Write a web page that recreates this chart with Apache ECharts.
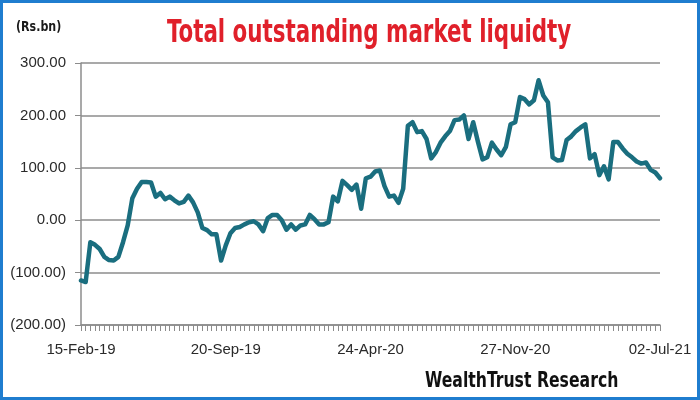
<!DOCTYPE html>
<html>
<head>
<meta charset="utf-8">
<script src="https://cdn.jsdelivr.net/npm/echarts@6/dist/echarts.min.js"></script>
<style>
html,body{margin:0;padding:0;background:#fff;}
#chart{width:700px;height:400px;}
</style>
</head>
<body>
<div id="chart"></div>
<script>
// Weekly observations starting 15-Feb-19 (Rs.bn)
const startDate = "2019-02-15";
const weekCount = 125;
const liquidity = [
  -115,-118,-42,-47,-55,-70,-76,-77,-70,-42,-10,42,60,73,73,72,45,52,40,45,38,
  32,35,47,34,15,-15,-19,-27,-27,-77,-48,-25,-15,-13,-8,-4,-2,-8,-21,4,10,
  10,0,-18,-8,-18,-10,-8,10,2,-8,-8,-4,45,36,75,67,58,68,22,80,83,93,95,65,45,47,33,60,180,187,168,170,155,118,130,148,160,170,
  191,192,200,155,187,150,116,120,148,135,124,140,183,187,235,231,221,229,267,238,225,120,114,115,153,160,170,177,183,118,126,86,103,78,149,149,137,127,120,112,108,110,96,91,80
];
const tickLabels = ["15-Feb-19","20-Sep-19","24-Apr-20","27-Nov-20","02-Jul-21"];
const titleText = "Total outstanding market liquidty";
const unitText = "(Rs.bn)";
const sourceText = "WealthTrust Research";

const months = ["Jan","Feb","Mar","Apr","May","Jun","Jul","Aug","Sep","Oct","Nov","Dec"];
function fmt(d){
  const dd = String(d.getUTCDate()).padStart(2,"0");
  const yy = String(d.getUTCFullYear()).slice(2);
  return dd + "-" + months[d.getUTCMonth()] + "-" + yy;
}
const categories = [];
const t0 = new Date(startDate + "T00:00:00Z").getTime();
for (let i = 0; i < weekCount; i++) categories.push(fmt(new Date(t0 + i * 7 * 86400000)));

const condensed = "'DejaVu Sans Condensed','Liberation Sans',sans-serif";

const chart = echarts.init(document.getElementById("chart"), null, {renderer: "canvas"});
chart.setOption({
  animation: false,
  backgroundColor: "#ffffff",
  grid: {left: 81, right: 40, top: 63, bottom: 75, containLabel: false},
  xAxis: {
    type: "category",
    data: categories,
    boundaryGap: false,
    axisLine: {show: true, onZero: false, lineStyle: {color: "#8c8c8c", width: 1.5}},
    axisTick: {show: true, interval: 0, length: 6, lineStyle: {color: "#8c8c8c"}},
    axisLabel: {
      interval: 30, margin: 17, color: "#2a2a2a", fontSize: 15,
      fontFamily: "'Liberation Sans', sans-serif",
      formatter: function(v){ return tickLabels.indexOf(v) >= 0 ? v : v; }
    },
    splitLine: {show: false}
  },
  yAxis: {
    type: "value",
    min: -200, max: 300, interval: 100,
    axisLine: {show: true, lineStyle: {color: "#8c8c8c", width: 1.5}},
    axisTick: {show: true, length: 6, lineStyle: {color: "#8c8c8c"}},
    axisLabel: {
      margin: 15, color: "#2a2a2a", fontSize: 15,
      fontFamily: "'Liberation Sans', sans-serif",
      formatter: function(v){
        const s = Math.abs(v).toFixed(2);
        return v < 0 ? "(" + s + ")" : s;
      }
    },
    splitLine: {show: true, lineStyle: {color: "#8c8c8c", width: 1.5}}
  },
  series: [{
    type: "line",
    data: liquidity,
    symbol: "none",
    smooth: false,
    lineStyle: {color: "#1a6e7f", width: 4.5, join: "round", cap: "round"}
  }],
  graphic: [
    {type: "text", x: 167, y: 17, scaleX: 0.78, scaleY: 1.05, originX: 0, originY: 0, silent: true,
     style: {text: titleText, fill: "#e0202a", font: "bold 30.5px " + condensed, textAlign: "left", textVerticalAlign: "top"}},
    {type: "text", x: 16, y: 20, scaleX: 0.88, originX: 0, originY: 0, silent: true,
     style: {text: unitText, fill: "#1a1a1a", font: "bold 14px " + condensed, textAlign: "left", textVerticalAlign: "top"}},
    {type: "text", x: 425, y: 371, scaleX: 0.83, originX: 0, originY: 0, silent: true,
     style: {text: sourceText, fill: "#111111", font: "bold 21px " + condensed, textAlign: "left", textVerticalAlign: "top"}},
    {type: "rect", shape: {x: 1.5, y: 1.5, width: 697, height: 397},
     style: {fill: "none", stroke: "#1f7dcf", lineWidth: 3}, silent: true, z: 100}
  ]
});
</script>
</body>
</html>
